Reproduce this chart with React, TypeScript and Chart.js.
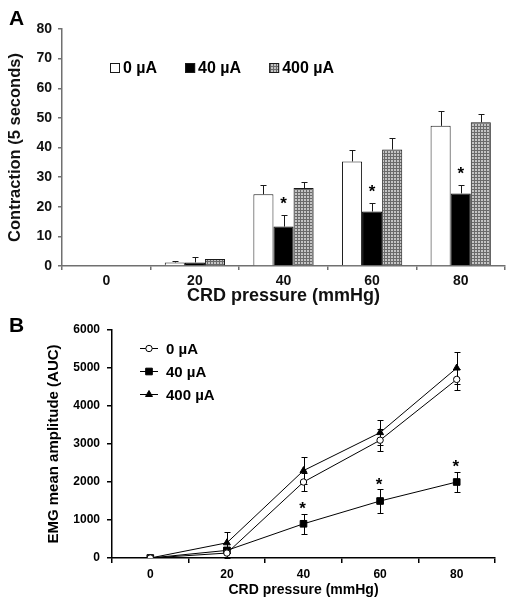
import React, { useEffect, useRef } from 'react';
import { Chart, registerables } from 'chart.js';

Chart.register(...registerables);

const FONT = '"Liberation Sans", Arial, Helvetica, sans-serif';
Chart.defaults.font.family = FONT;
Chart.defaults.color = '#000';

// ---------- shared ----------
const pressures = ['0', '20', '40', '60', '80'];
const seriesLabels = ['0 µA', '40 µA', '400 µA'];

// ---------- panel A : contraction (5 seconds) ----------
const contraction0 = [0, 1.2, 24.2, 35.3, 47.3];
const contraction0Err = [0, 0.6, 3.1, 3.7, 5.0];
const contraction40 = [0, 1.2, 13.3, 18.4, 24.5];
const contraction40Err = [0, 1.9, 3.9, 2.8, 2.8];
const contraction400 = [0, 2.4, 26.3, 39.3, 48.5];
const contraction400Err = [0, 0, 2.0, 4.0, 2.9];
const contractionStars = [false, false, true, true, true];
const contractionMin = 0;
const contractionMax = 80;
const contractionStep = 10;

// ---------- panel B : EMG mean amplitude (AUC) ----------
const emg0 = [0, 130, 2000, 3100, 4700];
const emg0Err = [0, 120, 250, 290, 270];
const emg40 = [0, 200, 900, 1500, 2000];
const emg40Err = [0, 80, 270, 315, 275];
const emg400 = [0, 400, 2300, 3300, 5000];
const emg400Err = [0, 280, 350, 320, 430];
const emgStars = [false, false, true, true, true];
const emgMin = 0;
const emgMax = 6000;
const emgStep = 1000;

function makeHatch(target: HTMLCanvasElement): CanvasPattern | string {
  const c = document.createElement('canvas');
  c.width = 3;
  c.height = 3;
  const g = c.getContext('2d');
  if (!g) return '#999';
  g.fillStyle = '#c4c4c4';
  g.fillRect(0, 0, 3, 3);
  g.fillStyle = '#6a6a6a';
  g.fillRect(0, 0, 3, 1);
  g.fillRect(0, 0, 1, 3);
  const p = target.getContext('2d')!.createPattern(c, 'repeat');
  return p || '#999';
}

function drawStar(ctx: CanvasRenderingContext2D, x: number, centerY: number, size: number) {
  ctx.font = `bold ${size}px ${FONT}`;
  ctx.textAlign = 'center';
  ctx.textBaseline = 'alphabetic';
  const m = ctx.measureText('*');
  const asc = m.actualBoundingBoxAscent;
  const desc = m.actualBoundingBoxDescent;
  const baseline = centerY - (desc - asc) / 2;
  ctx.fillText('*', x, baseline);
}

const plainTick = (v: any) => String(v);

function PanelA() {
  const ref = useRef<HTMLCanvasElement>(null);
  useEffect(() => {
    const canvas = ref.current!;
    const hatch = makeHatch(canvas);
    const errs = [contraction0Err, contraction40Err, contraction400Err];

    const plugin = {
      id: 'panelAExtras',
      afterDatasetsDraw(chart: any) {
        const ctx: CanvasRenderingContext2D = chart.ctx;
        const ys = chart.scales.y;
        ctx.save();
        // error bars (upper only)
        ctx.strokeStyle = '#1a1a1a';
        ctx.lineWidth = 1;
        chart.data.datasets.forEach((ds: any, i: number) => {
          const meta = chart.getDatasetMeta(i);
          meta.data.forEach((bar: any, j: number) => {
            const v = ds.data[j];
            const e = errs[i][j];
            if (!e) return;
            const x = Math.round(bar.x) + 0.5;
            const y0 = ys.getPixelForValue(v);
            const y1 = Math.round(ys.getPixelForValue(v + e)) + 0.5;
            ctx.beginPath();
            ctx.moveTo(x, y0);
            ctx.lineTo(x, y1);
            ctx.moveTo(x - 3, y1);
            ctx.lineTo(x + 3, y1);
            ctx.stroke();
          });
        });
        // significance stars above 40 µA bars
        ctx.fillStyle = '#000';
        const meta40 = chart.getDatasetMeta(1);
        contractionStars.forEach((s, j) => {
          if (!s) return;
          const top = ys.getPixelForValue(contraction40[j] + contraction40Err[j]);
          drawStar(ctx, meta40.data[j].x, top - 15, 17);
        });
        // legend
        ctx.font = `bold 16px ${FONT}`;
        ctx.textAlign = 'left';
        ctx.textBaseline = 'middle';
        let lx = 110;
        const ly = 68;
        chart.data.datasets.forEach((ds: any) => {
          ctx.fillStyle = ds.backgroundColor;
          ctx.fillRect(lx, ly - 5, 10, 10);
          ctx.strokeStyle = '#1a1a1a';
          ctx.lineWidth = 1;
          ctx.strokeRect(lx + 0.5, ly - 4.5, 9, 9);
          ctx.fillStyle = '#000';
          ctx.fillText(ds.label, lx + 13, ly + 1);
          lx += 13 + ctx.measureText(ds.label).width + 28;
        });
        // panel letter
        ctx.font = `bold 21px ${FONT}`;
        ctx.textBaseline = 'alphabetic';
        ctx.fillText('A', 9, 24.5);
        ctx.restore();
      },
    };

    const axisColor = '#707070';
    const chart = new Chart(canvas, {
      type: 'bar',
      data: {
        labels: pressures,
        datasets: [
          { label: seriesLabels[0], data: contraction0, backgroundColor: '#ffffff', borderColor: '#1a1a1a', borderWidth: 1 },
          { label: seriesLabels[1], data: contraction40, backgroundColor: '#000000', borderColor: '#000000', borderWidth: 1 },
          { label: seriesLabels[2], data: contraction400, backgroundColor: hatch as any, borderColor: '#1a1a1a', borderWidth: 1 },
        ],
      },
      options: {
        responsive: false,
        animation: false,
        layout: { padding: { left: 0, right: 7, top: 29, bottom: 0 } },
        datasets: { bar: { categoryPercentage: 0.68, barPercentage: 1 } },
        plugins: { legend: { display: false }, tooltip: { enabled: false } },
        scales: {
          x: {
            type: 'category',
            offset: true,
            grid: { offset: true, drawOnChartArea: false, drawTicks: true, tickLength: 4, color: axisColor, lineWidth: 1.5 },
            border: { display: true, color: axisColor, width: 1.5 },
            ticks: { font: { size: 14, weight: 'bold' }, color: '#111', padding: 3 },
            title: { display: true, text: 'CRD pressure (mmHg)', font: { size: 18, weight: 'bold' }, color: '#111', padding: { top: 0, bottom: 3 } },
            afterFit: (s: any) => { s.height = 44; },
          },
          y: {
            min: contractionMin,
            max: contractionMax,
            ticks: { stepSize: contractionStep, font: { size: 14, weight: 'bold' }, color: '#111', padding: 6, callback: plainTick },
            grid: { drawOnChartArea: false, drawTicks: true, tickLength: 4, color: axisColor, lineWidth: 1.5 },
            border: { display: true, color: axisColor, width: 1.5 },
            title: { display: true, text: 'Contraction (5 seconds)', font: { size: 16.5, weight: 'bold' }, color: '#111', padding: { top: 6, bottom: 0 } },
            afterFit: (s: any) => { s.width = 62; },
          },
        },
      } as any,
      plugins: [plugin],
    });
    return () => chart.destroy();
  }, []);
  return <canvas ref={ref} width={512} height={310} style={{ position: 'absolute', left: 0, top: 0 }} />;
}

function drawMarker(ctx: CanvasRenderingContext2D, style: string, x: number, y: number, r: number, fill: string) {
  ctx.beginPath();
  if (style === 'circle') {
    ctx.arc(x, y, r, 0, Math.PI * 2);
  } else if (style === 'rect') {
    const h = r * Math.SQRT1_2;
    ctx.rect(x - h, y - h, 2 * h, 2 * h);
  } else {
    const a = (Math.PI * 2) / 3;
    ctx.moveTo(x, y - r);
    ctx.lineTo(x + Math.sin(a) * r, y - Math.cos(a) * r);
    ctx.lineTo(x - Math.sin(a) * r, y - Math.cos(a) * r);
    ctx.closePath();
  }
  ctx.fillStyle = fill;
  ctx.fill();
  ctx.strokeStyle = '#000';
  ctx.lineWidth = 1;
  ctx.stroke();
}

function PanelB() {
  const ref = useRef<HTMLCanvasElement>(null);
  useEffect(() => {
    const canvas = ref.current!;
    const errs = [emg0Err, emg40Err, emg400Err];

    const plugin = {
      id: 'panelBExtras',
      beforeDatasetsDraw(chart: any) {
        const ctx: CanvasRenderingContext2D = chart.ctx;
        const ys = chart.scales.y;
        ctx.save();
        ctx.strokeStyle = '#000';
        ctx.lineWidth = 1;
        chart.data.datasets.forEach((ds: any, i: number) => {
          const meta = chart.getDatasetMeta(i);
          meta.data.forEach((pt: any, j: number) => {
            const v = ds.data[j];
            const e = errs[i][j];
            if (!e) return;
            const x = Math.round(pt.x) + 0.5;
            const yTop = Math.round(ys.getPixelForValue(v + e)) + 0.5;
            const yBot = Math.round(ys.getPixelForValue(Math.max(v - e, emgMin))) + 0.5;
            ctx.beginPath();
            ctx.moveTo(x, yTop);
            ctx.lineTo(x, yBot);
            ctx.moveTo(x - 3, yTop);
            ctx.lineTo(x + 3, yTop);
            ctx.moveTo(x - 3, yBot);
            ctx.lineTo(x + 3, yBot);
            ctx.stroke();
          });
        });
        ctx.restore();
      },
      afterDatasetsDraw(chart: any) {
        const ctx: CanvasRenderingContext2D = chart.ctx;
        const ys = chart.scales.y;
        ctx.save();
        ctx.fillStyle = '#000';
        const meta40 = chart.getDatasetMeta(1);
        emgStars.forEach((s, j) => {
          if (!s) return;
          const top = ys.getPixelForValue(emg40[j] + emg40Err[j]);
          drawStar(ctx, meta40.data[j].x - 1, top - 8, 17);
        });
        // legend
        const rows = [38, 61, 84];
        chart.data.datasets.forEach((ds: any, i: number) => {
          const y = rows[i] + 0.5;
          ctx.strokeStyle = '#000';
          ctx.lineWidth = 1;
          ctx.beginPath();
          ctx.moveTo(140, y);
          ctx.lineTo(158, y);
          ctx.stroke();
          drawMarker(ctx, ds.pointStyle, 149, y, ds.pointRadius, ds.pointBackgroundColor);
          ctx.fillStyle = '#000';
          ctx.font = `bold 15px ${FONT}`;
          ctx.textAlign = 'left';
          ctx.textBaseline = 'middle';
          ctx.fillText(ds.label, 166, y + 1);
        });
        ctx.font = `bold 21px ${FONT}`;
        ctx.textBaseline = 'alphabetic';
        ctx.fillText('B', 9, 22);
        ctx.restore();
      },
    };

    const chart = new Chart(canvas, {
      type: 'line',
      data: {
        labels: pressures,
        datasets: [
          { label: seriesLabels[0], data: emg0, borderColor: '#000', borderWidth: 1, pointStyle: 'circle', pointRadius: 3.2, pointBackgroundColor: '#ffffff', pointBorderColor: '#000', pointBorderWidth: 1 },
          { label: seriesLabels[1], data: emg40, borderColor: '#000', borderWidth: 1, pointStyle: 'rect', pointRadius: 4.7, pointBackgroundColor: '#000000', pointBorderColor: '#000', pointBorderWidth: 1 },
          { label: seriesLabels[2], data: emg400, borderColor: '#000', borderWidth: 1, pointStyle: 'triangle', pointRadius: 4, pointBackgroundColor: '#000000', pointBorderColor: '#000', pointBorderWidth: 1 },
        ],
      },
      options: {
        responsive: false,
        animation: false,
        layout: { padding: { left: 0, right: 17, top: 20, bottom: 0 } },
        elements: { line: { tension: 0 } },
        plugins: { legend: { display: false }, tooltip: { enabled: false } },
        scales: {
          x: {
            type: 'category',
            offset: true,
            grid: { offset: true, drawOnChartArea: false, drawTicks: true, tickLength: 5, color: '#000', lineWidth: 1.5 },
            border: { display: true, color: '#000', width: 1.5 },
            ticks: { font: { size: 12, weight: 'bold' }, color: '#000', padding: 4 },
            title: { display: true, text: 'CRD pressure (mmHg)', font: { size: 14, weight: 'bold' }, color: '#000', padding: { top: 0, bottom: 5 } },
            afterFit: (s: any) => { s.height = 46; },
          },
          y: {
            min: emgMin,
            max: emgMax,
            ticks: { stepSize: emgStep, font: { size: 12, weight: 'bold' }, color: '#000', padding: 7, callback: plainTick },
            grid: { drawOnChartArea: false, drawTicks: true, tickLength: 5, color: '#000', lineWidth: 1.5 },
            border: { display: true, color: '#000', width: 1.5 },
            title: { display: true, text: 'EMG mean amplitude (AUC)', font: { size: 15, weight: 'bold' }, color: '#000', padding: { top: 45, bottom: 0 } },
            afterFit: (s: any) => { s.width = 112; },
          },
        },
      } as any,
      plugins: [plugin],
    });
    return () => chart.destroy();
  }, []);
  return <canvas ref={ref} width={512} height={294} style={{ position: 'absolute', left: 0, top: 310 }} />;
}

export default function App() {
  return (
    <div style={{ position: 'fixed', left: 0, top: 0, width: 512, height: 604, background: '#ffffff', overflow: 'hidden' }}>
      <PanelA />
      <PanelB />
    </div>
  );
}
